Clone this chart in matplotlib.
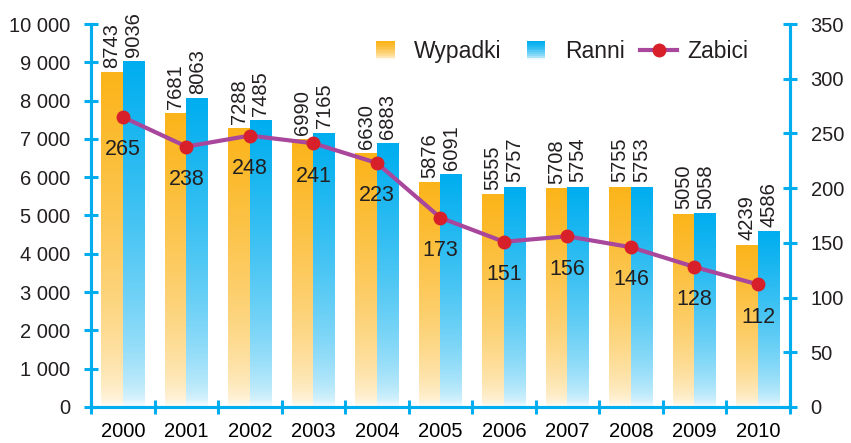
import matplotlib
matplotlib.use("Agg")
import matplotlib.pyplot as plt
import numpy as np
from matplotlib.colors import to_rgb
from matplotlib.legend_handler import HandlerBase
from matplotlib.lines import Line2D
from matplotlib.patches import Rectangle

# Dane
lata = ["2000", "2001", "2002", "2003", "2004", "2005", "2006", "2007", "2008", "2009", "2010"]
wypadki = [8743, 7681, 7288, 6990, 6630, 5876, 5555, 5708, 5755, 5050, 4239]
ranni = [9036, 8063, 7485, 7165, 6883, 6091, 5757, 5754, 5753, 5058, 4586]
zabici = [265, 238, 248, 241, 223, 173, 151, 156, 146, 128, 112]

lewe_ticki = [0, 1000, 2000, 3000, 4000, 5000, 6000, 7000, 8000, 9000, 10000]
prawe_ticki = [0, 50, 100, 150, 200, 250, 300, 350]

POMARANCZ = "#FBB41A"
NIEBIESKI = "#00AEEF"
FIOLET = "#A8479B"
CZERWONY = "#D7202A"
TEKST = "#231F20"

plt.rcParams["font.family"] = ["Liberation Sans", "DejaVu Sans"]
plt.rcParams["text.color"] = TEKST
FS = 14.5


def gradient(kolor, n=64):
    # od prawie białego na dole do pełnego koloru na górze
    c = np.array(to_rgb(kolor))
    t = np.linspace(0, 1, n)
    f = 0.06 + 0.94 * t ** 0.55
    img = (1 - f)[:, None] * np.ones(3) + f[:, None] * c
    return img[:, None, :]


class GradientHandler(HandlerBase):
    def __init__(self, kolor):
        super().__init__()
        self.kolor = kolor

    def create_artists(self, legend, orig_handle, xdescent, ydescent,
                       width, height, fontsize, trans):
        bok = height * 1.15
        x0 = -xdescent + (width - bok) / 2
        y0 = -ydescent + (height - bok) / 2
        img = gradient(self.kolor, 10)
        artysci = []
        for i in range(10):
            r = Rectangle((x0, y0 + i * bok / 10), bok, bok / 10 + 0.3,
                          facecolor=img[i, 0], edgecolor="none", transform=trans)
            artysci.append(r)
        return artysci


fig = plt.figure(figsize=(8.51, 4.43), dpi=100)
ax = fig.add_axes([0.107, 0.0813, 0.821, 0.8645])
ax2 = ax.twinx()

x = np.arange(len(lata))
szer = 0.34
slupki1 = ax.bar(x - szer / 2, wypadki, szer, color="none", edgecolor="none")
slupki2 = ax.bar(x + szer / 2, ranni, szer, color="none", edgecolor="none")

for slupki, kolor, wartosci in [(slupki1, POMARANCZ, wypadki),
                                (slupki2, NIEBIESKI, ranni)]:
    img = gradient(kolor)
    for b in slupki:
        bx, by = b.get_x(), b.get_y()
        w, h = b.get_width(), b.get_height()
        im = ax.imshow(img, extent=(bx, bx + w, by, by + h), origin="lower",
                       aspect="auto", zorder=2, interpolation="bilinear")
        im.set_clip_path(b)
    ax.bar_label(slupki, labels=[str(v) for v in wartosci],
                 rotation=90, padding=3, fontsize=FS, color=TEKST)

ax.set_xlim(-0.5, len(lata) - 0.5)
ax.set_ylim(0, 10000)
ax.set_yticks(lewe_ticki)
ax.set_yticklabels([f"{v:,}".replace(",", " ") for v in lewe_ticki], fontsize=FS)
ax.set_xticks(x)
ax.set_xticklabels(lata, fontsize=FS)
ax.set_xticks(np.arange(len(lata) + 1) - 0.5, minor=True)
ax.tick_params(axis="x", which="major", length=0, pad=11)
ax.tick_params(axis="x", which="minor", length=10, width=2.2,
               direction="inout", color=NIEBIESKI)
ax.tick_params(axis="y", length=10, width=2.2, direction="inout",
               color=NIEBIESKI, pad=10, labelcolor=TEKST)

# linia Zabici
ax2.plot(x, zabici, color=FIOLET, lw=3, zorder=3)
ax2.plot(x, zabici, "o", color=CZERWONY, ms=9, zorder=4)
for xi, v in zip(x, zabici):
    ax2.annotate(str(v), (xi, v), xytext=(0, -16), textcoords="offset points",
                 ha="center", va="top", fontsize=FS + 1, color=TEKST)
ax2.set_ylim(0, 350)
ax2.set_yticks(prawe_ticki)
ax2.set_yticklabels([str(v) for v in prawe_ticki], fontsize=FS)
ax2.tick_params(axis="y", length=10, width=2.2, direction="inout",
                color=NIEBIESKI, pad=10, labelcolor=TEKST)

for a in (ax, ax2):
    a.spines["top"].set_visible(False)
    for s in ("left", "right", "bottom"):
        a.spines[s].set_color(NIEBIESKI)
        a.spines[s].set_linewidth(2.2)

# legenda
h1 = Rectangle((0, 0), 1, 1, color=POMARANCZ)
h2 = Rectangle((0, 0), 1, 1, color=NIEBIESKI)
h3 = Line2D([], [], color=FIOLET, lw=3, marker="o", ms=9,
            markerfacecolor=CZERWONY, markeredgecolor=CZERWONY)
ax2.legend([h1, h2, h3], ["Wypadki", "Ranni", "Zabici"], ncol=3,
           loc="center", bbox_to_anchor=(0.668, 0.927), frameon=False,
           fontsize=16.5, handlelength=1.6, handletextpad=0.45, columnspacing=0.7,
           handler_map={h1: GradientHandler(POMARANCZ),
                        h2: GradientHandler(NIEBIESKI)})

fig.savefig("out.png", dpi=100)
